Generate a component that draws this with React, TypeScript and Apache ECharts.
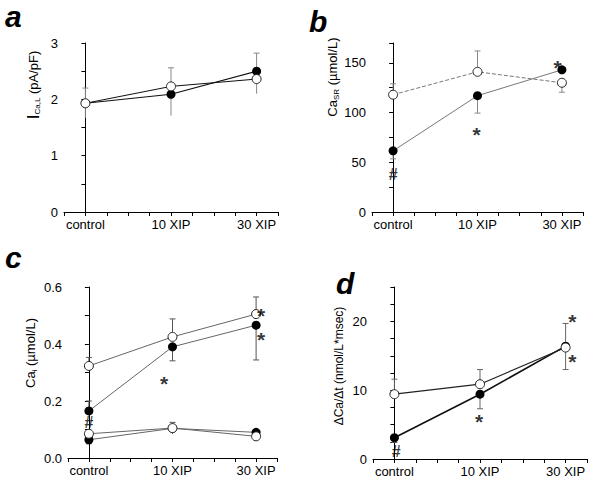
import React, { useEffect, useRef } from "react";
import * as echarts from "echarts";

const categories = ["control", "10 XIP", "30 XIP"];

// panel a: I_Ca,L (pA/pF)
const aFilled = [1.93, 2.09, 2.5];
const aOpen = [1.93, 2.23, 2.36];
const aErr = [
  [0, 1.67, 2.2],
  [1, 1.71, 2.56],
  [2, 2.1, 2.82],
];

// panel b: Ca_SR (µmol/L)
const bOpen = [118, 141, 130];
const bFilled = [61.5, 117, 143];
const bErr = [
  [0, 118, 129],
  [1, 141, 162],
  [2, 130, 120.5],
  [0, 61.5, 53.5],
  [1, 117, 99.5],
];
const bMarks = [
  [0, 38, "#"],
  [0.99, 82, "*"],
  [1.95, 149, "*"],
];

// panel c: Ca_i (µmol/L)
const cOpenHigh = [0.323, 0.425, 0.505];
const cFilledHigh = [0.165, 0.39, 0.466];
const cOpenLow = [0.085, 0.105, 0.076];
const cFilledLow = [0.064, 0.104, 0.09];
const cErr = [
  [0, 0.323, 0.353],
  [1, 0.425, 0.488],
  [2, 0.505, 0.565],
  [0, 0.165, 0.2],
  [1, 0.39, 0.341],
  [2, 0.466, 0.344],
  [1, 0.084, 0.125],
  [0, 0.064, 0.05],
];
const cMarks = [
  [0, 0.125, "#"],
  [0.9, 0.276, "*"],
  [2.06, 0.513, "*"],
  [2.06, 0.43, "*"],
];

// panel d: ΔCa/Δt (nmol/L*msec)
const dOpen = [9.42, 10.87, 16.2];
const dFilled = [3.09, 9.42, 16.4];
const dErr = [
  [0, 9.42, 11.6],
  [1, 10.87, 13.0],
  [2, 16.2, 19.7],
  [2, 16.4, 13.0],
  [1, 9.42, 7.3],
  [0, 3.09, 2.4],
];
const dMarks = [
  [0.02, 1.06, "#"],
  [0.99, 6.1, "*"],
  [2.08, 20.6, "*"],
  [2.08, 14.8, "*"],
];

const FONT = "Liberation Sans";

const toXY = (vals: number[]) => vals.map((v, i) => [i, v]);

export default function App() {
  const ref = useRef<HTMLDivElement>(null);

  useEffect(() => {
    if (!ref.current) return;
    const chart = echarts.init(ref.current, undefined, { renderer: "svg" });

    const grids = [
      { left: 64, top: 43, width: 214, height: 169 },
      { left: 372, top: 43, width: 211, height: 169 },
      { left: 68, top: 287, width: 209, height: 171 },
      { left: 373, top: 287, width: 214, height: 172 },
    ];

    const xAxis = grids.map((_, i) => ({
      type: "value",
      gridIndex: i,
      min: -0.25,
      max: 2.25,
      interval: 0.25,
      splitLine: { show: false },
      axisLine: { lineStyle: { color: "#000", width: 1 } },
      axisTick: { length: 4, lineStyle: { color: "#000" } },
      axisLabel: {
        margin: 6,
        color: "#000",
        fontFamily: FONT,
        fontSize: 13,
        formatter: (v: number) => {
          const r = Math.round(v);
          return Math.abs(v - r) < 1e-6 && r >= 0 && r <= 2 ? categories[r] : "";
        },
      },
    }));

    const yCommon = {
      type: "value",
      splitLine: { show: false },
      axisLine: { show: true, lineStyle: { color: "#000", width: 1 } },
      axisTick: { show: true, length: 4, lineStyle: { color: "#000" } },
    };
    const lbl = (fmt: (v: number) => string) => ({
      margin: 6,
      color: "#000",
      fontFamily: FONT,
      fontSize: 13,
      formatter: fmt,
    });

    const yAxis = [
      {
        ...yCommon,
        gridIndex: 0,
        min: 0,
        max: 3,
        interval: 0.5,
        axisLabel: lbl((v) => (Math.abs(v - Math.round(v)) < 1e-6 ? String(Math.round(v)) : "")),
      },
      {
        ...yCommon,
        gridIndex: 1,
        min: 0,
        max: 170,
        interval: 25,
        axisLabel: lbl((v) => (v % 50 === 0 ? String(v) : "")),
      },
      {
        ...yCommon,
        gridIndex: 2,
        min: 0,
        max: 0.6,
        interval: 0.1,
        axisLabel: lbl((v) => {
          const k = Math.round(v * 10);
          return k % 2 === 0 ? (k / 10).toFixed(1) : "";
        }),
      },
      {
        ...yCommon,
        gridIndex: 3,
        min: 0,
        max: 25,
        interval: 2.5,
        axisLabel: lbl((v) => (Math.abs(v % 10) < 1e-6 ? String(v) : "")),
      },
    ];

    const filledLine = (idx: number, vals: number[], color: string, width: number, type = "solid") => ({
      type: "line",
      xAxisIndex: idx,
      yAxisIndex: idx,
      data: toXY(vals),
      symbol: "circle",
      symbolSize: 9,
      z: 4,
      itemStyle: { color: "#000" },
      lineStyle: { color, width, type },
    });
    const openLine = (idx: number, vals: number[], color: string, width: number, type = "solid") => ({
      type: "line",
      xAxisIndex: idx,
      yAxisIndex: idx,
      data: toXY(vals),
      symbol: "circle",
      symbolSize: 9,
      z: 5,
      itemStyle: { color: "#fff", borderColor: "#222", borderWidth: 1 },
      lineStyle: { color, width, type },
    });
    const errSeries = (idx: number, data: number[][], color = "#777") => ({
      type: "custom",
      xAxisIndex: idx,
      yAxisIndex: idx,
      z: 2,
      data,
      renderItem: (params: any, api: any) => {
        const x = api.value(0);
        const p1 = api.coord([x, api.value(1)]);
        const p2 = api.coord([x, api.value(2)]);
        return {
          type: "group",
          children: [
            {
              type: "line",
              shape: { x1: p1[0], y1: p1[1], x2: p2[0], y2: p2[1] },
              style: { stroke: color, lineWidth: 1 },
            },
            {
              type: "line",
              shape: { x1: p2[0] - 3, y1: p2[1], x2: p2[0] + 3, y2: p2[1] },
              style: { stroke: color, lineWidth: 1 },
            },
          ],
        };
      },
    });
    const markSeries = (idx: number, data: any[]) => ({
      type: "scatter",
      xAxisIndex: idx,
      yAxisIndex: idx,
      symbolSize: 0,
      z: 6,
      data: data.map((d) => ({
        value: [d[0], d[1]],
        label: {
          show: true,
          position: "inside",
          formatter: d[2],
          color: "#000",
          fontFamily: FONT,
          fontWeight: "bold",
          fontSize: d[2] === "*" ? 21 : 16,
          lineHeight: d[2] === "*" ? 12 : 16,
          offset: d[2] === "*" ? [0, 4] : [0, 0],
        },
      })),
    });

    const series = [
      errSeries(0, aErr, "#888"),
      filledLine(0, aFilled, "#111", 1.2),
      openLine(0, aOpen, "#111", 1),

      errSeries(1, bErr, "#888"),
      filledLine(1, bFilled, "#777", 1),
      openLine(1, bOpen, "#777", 1, "dashed"),
      markSeries(1, bMarks),

      errSeries(2, cErr, "#555"),
      openLine(2, cOpenHigh, "#666", 1),
      filledLine(2, cFilledHigh, "#666", 1),
      openLine(2, cOpenLow, "#666", 1),
      filledLine(2, cFilledLow, "#666", 1),
      markSeries(2, cMarks),

      errSeries(3, dErr, "#666"),
      openLine(3, dOpen, "#222", 1.2),
      filledLine(3, dFilled, "#111", 1.6),
      markSeries(3, dMarks),
    ];

    const panelLetter = (t: string, x: number, y: number) => ({
      type: "text",
      x,
      y,
      style: {
        text: t,
        fill: "#000",
        font: `italic bold 30px ${FONT}`,
        textAlign: "left",
        textVerticalAlign: "top",
      },
    });
    const yTitle = (text: string, rich: any, x: number, y: number, size: number) => ({
      type: "text",
      x,
      y,
      rotation: Math.PI / 2,
      style: {
        text,
        rich,
        fill: "#000",
        fontFamily: FONT,
        fontSize: size,
        align: "center",
        verticalAlign: "middle",
      },
    });

    const subRich = (size: number) => ({
      m: { fontFamily: FONT, fontSize: size, fill: "#000" },
      big: { fontFamily: FONT, fontSize: size + 4, fill: "#000" },
      s: { fontFamily: FONT, fontSize: Math.round(size * 0.62), fill: "#000", padding: [8, 0, 0, 0] },
    });

    const graphic = [
      panelLetter("a", 5, 1),
      panelLetter("b", 309, 6),
      panelLetter("c", 5, 242),
      panelLetter("d", 336, 268),
      yTitle("{big|I}{s|Ca,L}{m| (pA/pF)}", subRich(13), 33, 85, 13),
      yTitle("{m|Ca}{s|SR}{m| (µmol/L)}", subRich(13), 332, 77, 13),
      yTitle("{m|Ca}{s|i}{m| (µmol/L)}", subRich(13), 30, 353, 13),
      yTitle("{m|ΔCa/Δt (nmol/L*msec)}", subRich(12), 339, 366, 12),
    ];

    chart.setOption({
      animation: false,
      backgroundColor: "#fff",
      grid: grids,
      xAxis,
      yAxis,
      series,
      graphic,
    });

    return () => chart.dispose();
  }, []);

  return <div ref={ref} style={{ width: 600, height: 481, position: "absolute", left: 0, top: 0 }} />;
}
